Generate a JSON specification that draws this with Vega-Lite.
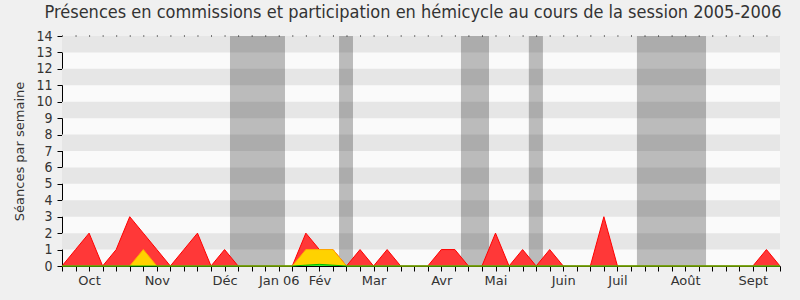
{
  "$schema": "https://vega.github.io/schema/vega-lite/v6.json",
  "width": 718,
  "height": 230,
  "autosize": {"type": "none"},
  "padding": {"left": 62, "top": 36, "right": 20, "bottom": 34},
  "background": "#f0f0f0",
  "title": {
    "text": "Présences en commissions et participation en hémicycle au cours de la session 2005-2006",
    "font": "DejaVu Sans Condensed, DejaVu Sans",
    "fontSize": 18,
    "fontWeight": "normal",
    "color": "#333333",
    "anchor": "middle",
    "frame": "group",
    "baseline": "alphabetic",
    "offset": -7,
    "dx": -8
  },
  "config": {
    "view": {"fill": "#fafafa", "stroke": null},
    "axis": {
      "labelFont": "DejaVu Sans", "titleFont": "DejaVu Sans",
      "labelColor": "#333333", "titleColor": "#333333",
      "labelFontSize": 13, "titleFontSize": 13, "titleFontWeight": "normal",
      "domainColor": "#000000", "tickColor": "#000000",
      "tickSize": 5, "labelPadding": 3, "labelOverlap": false, "labelFlush": false,
      "grid": false
    }
  },
  "datasets": {
    "semaines": [
      {"semaine": 0, "rouge": 0, "jaune": 0, "vert": 0},
      {"semaine": 1, "rouge": 1, "jaune": 0, "vert": 0},
      {"semaine": 2, "rouge": 2, "jaune": 0, "vert": 0},
      {"semaine": 3, "rouge": 0, "jaune": 0, "vert": 0},
      {"semaine": 4, "rouge": 1, "jaune": 0, "vert": 0},
      {"semaine": 5, "rouge": 3, "jaune": 0, "vert": 0},
      {"semaine": 6, "rouge": 2, "jaune": 1, "vert": 0},
      {"semaine": 7, "rouge": 1, "jaune": 0, "vert": 0},
      {"semaine": 8, "rouge": 0, "jaune": 0, "vert": 0},
      {"semaine": 9, "rouge": 1, "jaune": 0, "vert": 0},
      {"semaine": 10, "rouge": 2, "jaune": 0, "vert": 0},
      {"semaine": 11, "rouge": 0, "jaune": 0, "vert": 0},
      {"semaine": 12, "rouge": 1, "jaune": 0, "vert": 0},
      {"semaine": 13, "rouge": 0, "jaune": 0, "vert": 0},
      {"semaine": 14, "rouge": 0, "jaune": 0, "vert": 0},
      {"semaine": 15, "rouge": 0, "jaune": 0, "vert": 0},
      {"semaine": 16, "rouge": 0, "jaune": 0, "vert": 0},
      {"semaine": 17, "rouge": 0, "jaune": 0, "vert": 0},
      {"semaine": 18, "rouge": 2, "jaune": 1, "vert": 0.05},
      {"semaine": 19, "rouge": 1, "jaune": 1, "vert": 0.1},
      {"semaine": 20, "rouge": 1, "jaune": 1, "vert": 0.05},
      {"semaine": 21, "rouge": 0, "jaune": 0, "vert": 0},
      {"semaine": 22, "rouge": 1, "jaune": 0, "vert": 0},
      {"semaine": 23, "rouge": 0, "jaune": 0, "vert": 0},
      {"semaine": 24, "rouge": 1, "jaune": 0, "vert": 0},
      {"semaine": 25, "rouge": 0, "jaune": 0, "vert": 0},
      {"semaine": 26, "rouge": 0, "jaune": 0, "vert": 0},
      {"semaine": 27, "rouge": 0, "jaune": 0, "vert": 0},
      {"semaine": 28, "rouge": 1, "jaune": 0, "vert": 0},
      {"semaine": 29, "rouge": 1, "jaune": 0, "vert": 0},
      {"semaine": 30, "rouge": 0, "jaune": 0, "vert": 0},
      {"semaine": 31, "rouge": 0, "jaune": 0, "vert": 0},
      {"semaine": 32, "rouge": 2, "jaune": 0, "vert": 0},
      {"semaine": 33, "rouge": 0, "jaune": 0, "vert": 0},
      {"semaine": 34, "rouge": 1, "jaune": 0, "vert": 0},
      {"semaine": 35, "rouge": 0, "jaune": 0, "vert": 0},
      {"semaine": 36, "rouge": 1, "jaune": 0, "vert": 0},
      {"semaine": 37, "rouge": 0, "jaune": 0, "vert": 0},
      {"semaine": 38, "rouge": 0, "jaune": 0, "vert": 0},
      {"semaine": 39, "rouge": 0, "jaune": 0, "vert": 0},
      {"semaine": 40, "rouge": 3, "jaune": 0, "vert": 0},
      {"semaine": 41, "rouge": 0, "jaune": 0, "vert": 0},
      {"semaine": 42, "rouge": 0, "jaune": 0, "vert": 0},
      {"semaine": 43, "rouge": 0, "jaune": 0, "vert": 0},
      {"semaine": 44, "rouge": 0, "jaune": 0, "vert": 0},
      {"semaine": 45, "rouge": 0, "jaune": 0, "vert": 0},
      {"semaine": 46, "rouge": 0, "jaune": 0, "vert": 0},
      {"semaine": 47, "rouge": 0, "jaune": 0, "vert": 0},
      {"semaine": 48, "rouge": 0, "jaune": 0, "vert": 0},
      {"semaine": 49, "rouge": 0, "jaune": 0, "vert": 0},
      {"semaine": 50, "rouge": 0, "jaune": 0, "vert": 0},
      {"semaine": 51, "rouge": 0, "jaune": 0, "vert": 0},
      {"semaine": 52, "rouge": 1, "jaune": 0, "vert": 0},
      {"semaine": 53, "rouge": 0, "jaune": 0, "vert": 0}
    ],
    "bandes": [
      {"bas": 1, "haut": 2}, {"bas": 3, "haut": 4}, {"bas": 5, "haut": 6},
      {"bas": 7, "haut": 8}, {"bas": 9, "haut": 10}, {"bas": 11, "haut": 12},
      {"bas": 13, "haut": 14}
    ],
    "vacances": [
      {"debut": 12.4, "fin": 16.46},
      {"debut": 20.45, "fin": 21.48},
      {"debut": 29.45, "fin": 31.52},
      {"debut": 34.46, "fin": 35.5},
      {"debut": 42.44, "fin": 47.54}
    ]
  },
  "layer": [
    {
      "data": {"name": "bandes"},
      "mark": {"type": "rect", "fill": "#e6e6e6"},
      "encoding": {
        "x": {
          "datum": 0, "type": "quantitative",
          "scale": {"domain": [0, 53], "nice": false, "zero": false},
          "axis": {
            "title": null,
            "tickCount": 100,
            "values": [0,1,2,3,4,5,6,7,8,9,10,11,12,13,14,15,16,17,18,19,20,21,22,23,24,25,26,27,28,29,30,31,32,33,34,35,36,37,38,39,40,41,42,43,44,45,46,47,48,49,50,51,52,53],
            "labelExpr": "datum.value == 2 ? 'Oct' : datum.value == 7 ? 'Nov' : datum.value == 12 ? 'Déc' : datum.value == 16 ? 'Jan 06' : datum.value == 19 ? 'Fév' : datum.value == 23 ? 'Mar' : datum.value == 28 ? 'Avr' : datum.value == 32 ? 'Mai' : datum.value == 37 ? 'Juin' : datum.value == 41 ? 'Juil' : datum.value == 46 ? 'Août' : datum.value == 51 ? 'Sept' : ''"
          }
        },
        "x2": {"datum": 53},
        "y": {
          "field": "bas", "type": "quantitative",
          "scale": {"domain": [0, 14], "nice": false},
          "axis": {
            "title": "Séances par semaine",
            "titlePadding": 9,
            "tickCount": 100,
            "format": "d",
            "labelPadding": 5,
            "labelFontSize": 14,
            "labelFont": "DejaVu Sans Condensed, DejaVu Sans",
            "values": [0,1,2,3,4,5,6,7,8,9,10,11,12,13,14]
          }
        },
        "y2": {"field": "haut"}
      }
    },
    {
      "data": {"name": "vacances"},
      "mark": {"type": "rect", "fill": "#000000", "opacity": 0.25},
      "encoding": {
        "x": {"field": "debut", "type": "quantitative"},
        "x2": {"field": "fin"},
        "y": {"datum": 0, "type": "quantitative"},
        "y2": {"datum": 14}
      }
    },
    {
      "data": {"name": "semaines"},
      "mark": {"type": "area", "color": "#ff3838", "opacity": 1, "line": {"color": "#ff0000", "strokeWidth": 1}},
      "encoding": {
        "x": {"field": "semaine", "type": "quantitative"},
        "y": {"field": "rouge", "type": "quantitative"}
      }
    },
    {
      "data": {"name": "semaines"},
      "mark": {"type": "area", "color": "#ffd200", "opacity": 1, "line": {"color": "#ffaa00", "strokeWidth": 1}},
      "encoding": {
        "x": {"field": "semaine", "type": "quantitative"},
        "y": {"field": "jaune", "type": "quantitative"}
      }
    },
    {
      "data": {"name": "semaines"},
      "mark": {"type": "area", "color": "#33ee33", "opacity": 1, "line": {"color": "#00bb00", "strokeWidth": 1}},
      "encoding": {
        "x": {"field": "semaine", "type": "quantitative"},
        "y": {"field": "vert", "type": "quantitative"}
      }
    },
    {
      "data": {"values": [{}]},
      "mark": {"type": "rule", "color": "#000000", "strokeWidth": 1, "strokeDash": [1, 12.547]},
      "encoding": {
        "x": {"datum": 0, "type": "quantitative"},
        "x2": {"datum": 53},
        "y": {"datum": 14, "type": "quantitative"}
      }
    }
  ]
}
